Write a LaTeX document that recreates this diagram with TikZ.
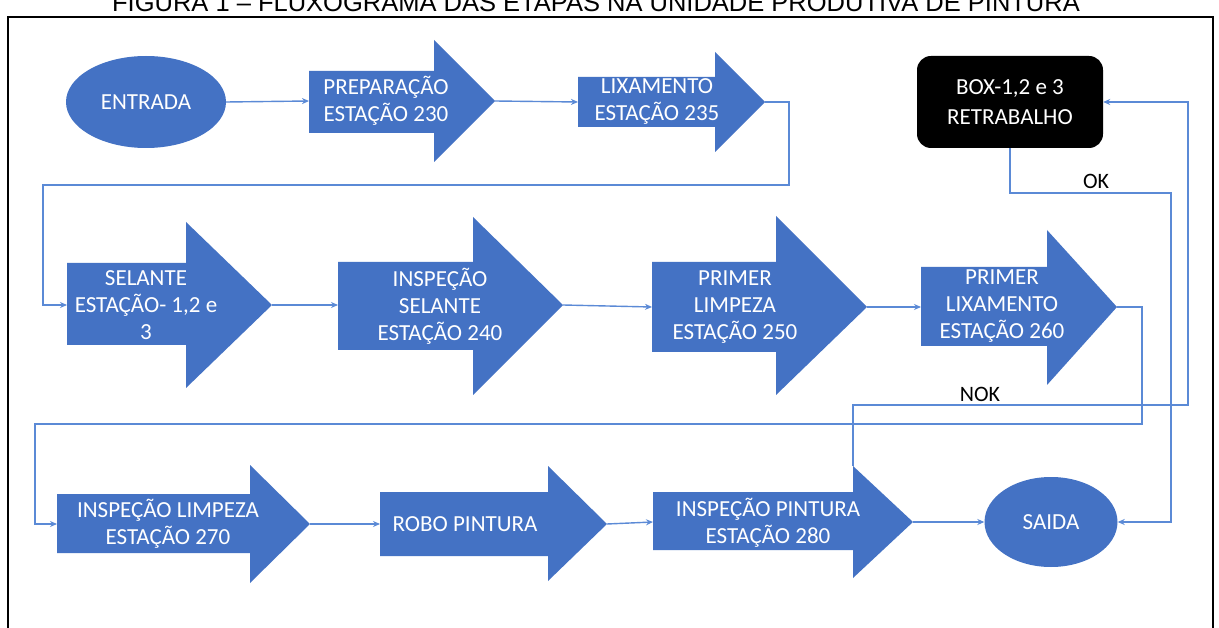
\documentclass[tikz,border=0pt]{standalone}
\usepackage{fontspec}
\setmainfont{Carlito}
\newfontfamily\titlefont{Liberation Sans}
\usetikzlibrary{arrows.meta,shapes.geometric}
\definecolor{blk}{HTML}{4472C4}
\definecolor{conn}{HTML}{5B8AD6}
\newcommand\barrow[9]{%
 \fill[blk] (#2,#5) -- (#3,#5) -- (#3,#7) -- (#4,#9) -- (#3,#8) -- (#3,#6) -- (#2,#6) -- cycle;
 \coordinate (#1-w) at (#2,#9);
 \coordinate (#1-e) at (#4,#9);
 \coordinate (#1-ht) at (#3,#7);
}
\tikzset{
 txt/.style={text=white, align=center, inner sep=0pt, font=\fontsize{23}{27}\selectfont},
 lbl/.style={text=black, inner sep=0pt, font=\fontsize{22}{26}\selectfont},
 oval/.style={ellipse, fill=blk, text=white, inner sep=0pt, font=\fontsize{23}{27}\selectfont},
 link/.style={draw=conn, line width=1.4pt, -{Stealth[length=7pt,width=6pt]}},
}
\begin{document}
\begin{tikzpicture}[x=1pt,y=-1pt]
\useasboundingbox (0,0) rectangle (1219,628);
\clip (0,0) rectangle (1219,628);
\fill[white] (0,0) rectangle (1219,628);
% title (cut off at top)
\node[anchor=base, inner sep=0pt, font=\titlefont\fontsize{25.5}{30}\selectfont] (title) at (596,12) {FIGURA 1 – FLUXOGRAMA DAS ETAPAS NA UNIDADE PRODUTIVA DE PINTURA};
% frame
\draw[black, line width=2.5pt] (8,650) -- (8,17) -- (1213,17) -- (1213,650);

% row 1
\node[oval, minimum width=160pt, minimum height=92pt] (entrada) at (146,102) {ENTRADA};
\barrow{prep}{309}{434}{495}{71}{133}{40}{162}{101}
\node[txt] (preptxt) at (386,101) {PREPARAÇÃO\\ESTAÇÃO 230};
\barrow{lix}{578}{715}{765}{77}{127}{52}{152}{102}
\node[txt] (lixtxt) at (657,101) {LIXAMENTO\\ESTAÇÃO 235};
\node[rectangle, rounded corners=14pt, fill=black, text=white, align=center, minimum width=186pt, minimum height=92pt, inner sep=0pt, font=\fontsize{23}{30}\selectfont] (box) at (1010,102) {BOX-1,2 e 3\\RETRABALHO};

% row 2
\barrow{sel}{67}{186}{272}{263}{345}{222}{388}{305}
\node[txt] (seltxt) at (146,305) {SELANTE\\ESTAÇÃO- 1,2 e\\3};
\barrow{ins}{338}{473}{563}{262}{350}{217}{395}{305}
\node[txt] (instxt) at (440,306) {INSPEÇÃO\\SELANTE\\ESTAÇÃO 240};
\barrow{pl}{652}{776}{867}{262}{352}{216}{395}{307}
\node[txt] (pltxt) at (735,307) {PRIMER\\LIMPEZA\\ESTAÇÃO 250};
\barrow{plx}{921}{1047}{1117}{267}{346}{230}{385}{307}
\node[txt] (plxtxt) at (1002,306) {PRIMER\\LIXAMENTO\\ESTAÇÃO 260};

% row 3
\barrow{il}{57}{250}{310}{494}{553}{465}{583}{524}
\node[txt] (iltxt) at (168,524) {INSPEÇÃO LIMPEZA\\ESTAÇÃO 270};
\barrow{rb}{380}{548}{607}{492}{556}{466}{581}{524}
\node[txt] (rbtxt) at (465,524) {ROBO PINTURA};
\barrow{ip}{653}{853}{913}{492}{550}{466}{578}{522}
\node[txt] (iptxt) at (768,523) {INSPEÇÃO PINTURA\\ESTAÇÃO 280};
\node[oval, minimum width=133pt, minimum height=90pt] (saida) at (1051,522) {SAIDA};

% waypoints
\coordinate (r1) at (789,185);
\coordinate (r2) at (43,185);
\coordinate (r3) at (1142,424);
\coordinate (r4) at (35,424);
\coordinate (n1) at (853,405);
\coordinate (n2) at (1188,405);
\coordinate (o1) at (1171,193);

% connectors
\draw[link] (entrada.east) -- (prep-w);
\draw[link] (prep-e) -- (lix-w);
\draw[link] (lix-e) -| (r1) -- (r2) |- (sel-w);
\draw[link] (sel-e) -- (ins-w);
\draw[link] (ins-e) -- (pl-w);
\draw[link] (pl-e) -- (plx-w);
\draw[link] (plx-e) -| (r3) -- (r4) |- (il-w);
\draw[link] (il-e) -- (rb-w);
\draw[link] (rb-e) -- (ip-w);
\draw[link] (ip-e) -- (saida.west);
\draw[link] (ip-ht) -- (n1) -- (n2) |- (box.east);
\draw[link] (box.south) |- (o1) |- (saida.east);

% labels
\node[lbl] (nok) at (980,394) {NOK};
\node[lbl] (ok) at (1096,181) {OK};
\end{tikzpicture}
\end{document}
